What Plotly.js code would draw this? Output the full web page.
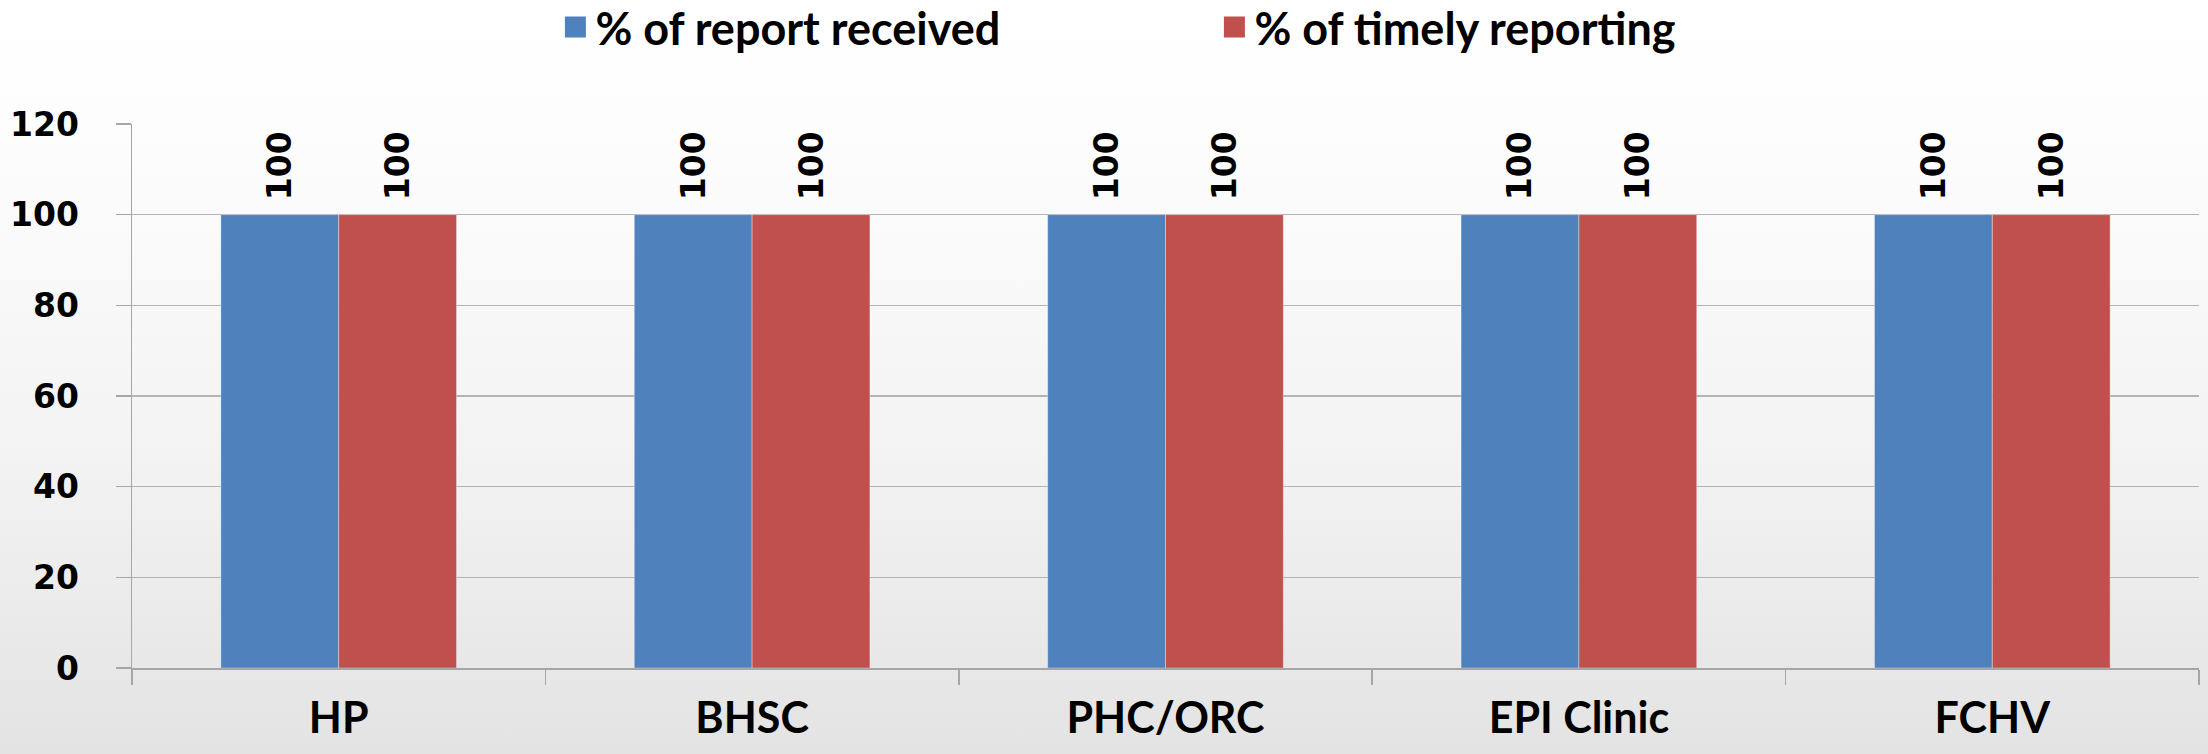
<!DOCTYPE html>
<html>
<head>
<meta charset="utf-8">
<script src="https://cdn.plot.ly/plotly-3.0.1.min.js"></script>
<style>
html, body { margin: 0; padding: 0; }
body { width: 2208px; height: 754px; background: linear-gradient(to bottom, #ffffff 0%, #fdfdfd 18%, #f3f3f3 60%, #e3e3e3 100%); }
#chart { width: 2208px; height: 754px; }
</style>
</head>
<body>
<div id="chart"></div>
<script>
var categories = ["HP", "BHSC", "PHC/ORC", "EPI Clinic", "FCHV"];
var reportReceived = [100, 100, 100, 100, 100];
var timelyReporting = [100, 100, 100, 100, 100];
var seriesNames = ["% of report received", "% of timely reporting"];
var yTicks = [0, 20, 40, 60, 80, 100, 120];

var blue = "#4F81BD", red = "#C0504D";
var calLike = "Lato, Liberation Sans, sans-serif";
var labelFont = {family: "DejaVu Sans, Verdana, sans-serif", size: 33, color: "#000", weight: "bold"};

var traces = [
  {type: "bar", x: categories, y: reportReceived, name: seriesNames[0], showlegend: false,
   marker: {color: blue, line: {color: "rgba(255,255,255,0.35)", width: 1}},
   text: reportReceived.map(String), texttemplate: "\u00a0%{text}", textposition: "outside", textangle: -90,
   textfont: labelFont, cliponaxis: false, hoverinfo: "x+y"},
  {type: "bar", x: categories, y: timelyReporting, name: seriesNames[1], showlegend: false,
   marker: {color: red, line: {color: "rgba(255,255,255,0.35)", width: 1}},
   text: timelyReporting.map(String), texttemplate: "\u00a0%{text}", textposition: "outside", textangle: -90,
   textfont: labelFont, cliponaxis: false, hoverinfo: "x+y"},
  {type: "scatter", mode: "markers", x: [null], y: [null], name: seriesNames[0],
   marker: {symbol: "square", size: 26, color: blue, line: {color: blue, width: 5}}, hoverinfo: "skip"},
  {type: "scatter", mode: "markers", x: [null], y: [null], name: seriesNames[1],
   marker: {symbol: "square", size: 26, color: red, line: {color: red, width: 5}}, hoverinfo: "skip"}
];

var layout = {
  width: 2208, height: 754,
  paper_bgcolor: "rgba(0,0,0,0)", plot_bgcolor: "rgba(0,0,0,0)",
  margin: {l: 132, r: 9, t: 124, b: 86, autoexpand: false},
  barmode: "group", bargap: 0.43, bargroupgap: 0,
  showlegend: true,
  legend: {orientation: "h", x: 0.55, xanchor: "center", xref: "container",
           y: 1.244, yanchor: "top", yref: "paper",
           font: {family: calLike, size: 45, color: "#000", weight: "bold"},
           entrywidth: 614, entrywidthmode: "pixels", traceorder: "normal",
           bgcolor: "rgba(0,0,0,0)", itemsizing: "trace"},
  xaxis: {type: "category", categoryorder: "array", categoryarray: categories,
          showline: true, linecolor: "#a6a6a6", linewidth: 1.5,
          ticks: "outside", tickson: "boundaries", ticklen: 15, tickcolor: "#a6a6a6", tickwidth: 1.5,
          ticklabelstandoff: 12, tickangle: 0,
          tickfont: {family: calLike, size: 43, color: "#000", weight: "bold"},
          showgrid: false, zeroline: false},
  yaxis: {range: [0, 120], tickvals: yTicks, ticktext: yTicks.map(String),
          showline: true, linecolor: "#a6a6a6", linewidth: 1.5,
          ticks: "outside", ticklen: 15, tickcolor: "#a6a6a6", tickwidth: 1.5,
          ticklabelstandoff: 30,
          showgrid: true, gridcolor: "#b4b4b4", gridwidth: 1.5, zeroline: false,
          tickfont: {family: "DejaVu Sans, Verdana, sans-serif", size: 33, color: "#000", weight: "bold"}}
};

Plotly.newPlot("chart", traces, layout, {displayModeBar: false, staticPlot: true});
</script>
</body>
</html>
